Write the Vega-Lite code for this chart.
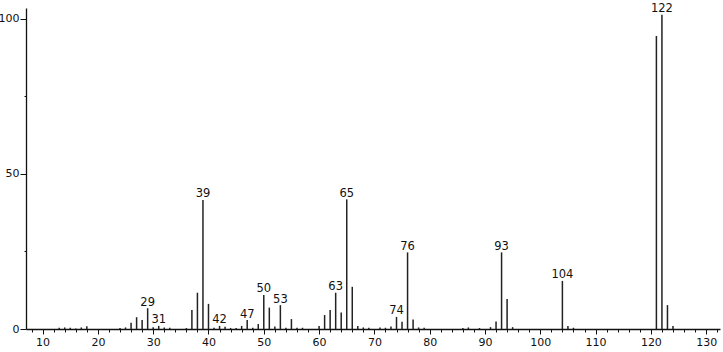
{
  "$schema": "https://vega.github.io/schema/vega-lite/v6.json",
  "width": 694,
  "height": 321,
  "autosize": "none",
  "padding": {"left": 26, "top": 8, "right": 3, "bottom": 23},
  "config": {
    "view": {"stroke": null},
    "font": "DejaVu Sans",
    "axis": {"grid": false, "domainColor": "#111", "tickColor": "#111", "labelColor": "#111", "labelFont": "DejaVu Sans", "labelFontSize": 11, "domainWidth": 1.3, "tickWidth": 1}
  },
  "data": {
    "values": [
      {"mz": 13, "intensity": 0.4}, {"mz": 14, "intensity": 0.5}, {"mz": 15, "intensity": 0.4},
      {"mz": 16, "intensity": 0.2}, {"mz": 17, "intensity": 0.5}, {"mz": 18, "intensity": 0.9},
      {"mz": 24, "intensity": 0.3}, {"mz": 25, "intensity": 0.5}, {"mz": 26, "intensity": 2.0},
      {"mz": 27, "intensity": 3.8}, {"mz": 28, "intensity": 2.9}, {"mz": 29, "intensity": 6.7, "label": "29"},
      {"mz": 30, "intensity": 0.6}, {"mz": 31, "intensity": 1.0, "label": "31"}, {"mz": 32, "intensity": 0.5},
      {"mz": 33, "intensity": 0.4}, {"mz": 36, "intensity": 0.3}, {"mz": 37, "intensity": 6.1},
      {"mz": 38, "intensity": 11.7}, {"mz": 39, "intensity": 41.6, "label": "39"}, {"mz": 40, "intensity": 8.1},
      {"mz": 41, "intensity": 0.4}, {"mz": 42, "intensity": 1.0, "label": "42"}, {"mz": 43, "intensity": 0.7},
      {"mz": 44, "intensity": 0.3}, {"mz": 45, "intensity": 0.3}, {"mz": 46, "intensity": 1.0},
      {"mz": 47, "intensity": 2.9, "label": "47"}, {"mz": 48, "intensity": 0.4}, {"mz": 49, "intensity": 1.6},
      {"mz": 50, "intensity": 11.0, "label": "50"}, {"mz": 51, "intensity": 6.9}, {"mz": 52, "intensity": 0.8},
      {"mz": 53, "intensity": 7.7, "label": "53"}, {"mz": 54, "intensity": 0.4}, {"mz": 55, "intensity": 3.2},
      {"mz": 56, "intensity": 0.4}, {"mz": 57, "intensity": 0.4}, {"mz": 60, "intensity": 1.0},
      {"mz": 61, "intensity": 4.5}, {"mz": 62, "intensity": 6.1}, {"mz": 63, "intensity": 11.7, "label": "63"},
      {"mz": 64, "intensity": 5.3}, {"mz": 65, "intensity": 41.8, "label": "65"}, {"mz": 66, "intensity": 13.6},
      {"mz": 67, "intensity": 1.0}, {"mz": 68, "intensity": 0.5}, {"mz": 69, "intensity": 0.4},
      {"mz": 71, "intensity": 0.5}, {"mz": 72, "intensity": 0.4}, {"mz": 73, "intensity": 0.8},
      {"mz": 74, "intensity": 3.9, "label": "74"}, {"mz": 75, "intensity": 2.3}, {"mz": 76, "intensity": 24.7, "label": "76"},
      {"mz": 77, "intensity": 3.1}, {"mz": 78, "intensity": 0.5}, {"mz": 79, "intensity": 0.4},
      {"mz": 86, "intensity": 0.3}, {"mz": 87, "intensity": 0.5}, {"mz": 89, "intensity": 0.3},
      {"mz": 91, "intensity": 0.6}, {"mz": 92, "intensity": 2.4}, {"mz": 93, "intensity": 24.7, "label": "93"},
      {"mz": 94, "intensity": 9.7}, {"mz": 95, "intensity": 0.6}, {"mz": 104, "intensity": 15.5, "label": "104"},
      {"mz": 105, "intensity": 1.0}, {"mz": 106, "intensity": 0.4}, {"mz": 121, "intensity": 94.5},
      {"mz": 122, "intensity": 101.3, "label": "122"}, {"mz": 123, "intensity": 7.7}, {"mz": 124, "intensity": 1.0}
    ]
  },
  "layer": [
    {
      "mark": {"type": "rule", "color": "#222", "strokeWidth": 1.5},
      "encoding": {
        "x": {"field": "mz", "type": "quantitative",
              "scale": {"domain": [7, 132.5], "nice": false, "zero": false},
              "axis": {"orient": "bottom", "values": [10, 20, 30, 40, 50, 60, 70, 80, 90, 100, 110, 120, 130], "tickSize": 5, "labelPadding": 2, "title": null}},
        "y": {"field": "intensity", "type": "quantitative",
              "scale": {"domain": [0, 103.5], "nice": false},
              "axis": {"orient": "left", "values": [0, 50, 100], "tickSize": 6, "labelPadding": 1, "title": null}},
        "y2": {"datum": 0}
      }
    },
    {
      "transform": [{"filter": "datum.label"}],
      "mark": {"type": "text", "baseline": "bottom", "dy": -0.5, "fontSize": 11.5, "color": "#111"},
      "encoding": {
        "x": {"field": "mz", "type": "quantitative",
              "axis": {"orient": "bottom", "values": [8, 12, 14, 16, 18, 22, 24, 26, 28, 32, 34, 36, 38, 42, 44, 46, 48, 52, 54, 56, 58, 62, 64, 66, 68, 72, 74, 76, 78, 82, 84, 86, 88, 92, 94, 96, 98, 102, 104, 106, 108, 112, 114, 116, 118, 122, 124, 126, 128, 132], "tickSize": 3, "labels": false, "domain": false, "title": null}},
        "y": {"field": "intensity", "type": "quantitative",
              "axis": {"orient": "left", "values": [25, 75], "tickSize": 2, "labels": false, "domain": false, "title": null}},
        "text": {"field": "label"}
      }
    }
  ],
  "resolve": {"axis": {"x": "independent", "y": "independent"}}
}
